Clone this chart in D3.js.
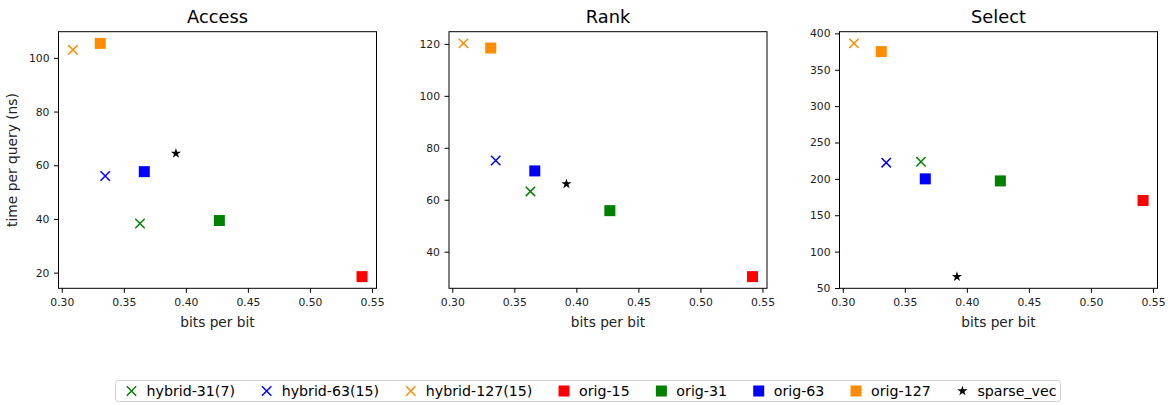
<!DOCTYPE html>
<html>
<head>
<meta charset="utf-8">
<script src="https://cdn.jsdelivr.net/npm/d3@7"></script>
<style>
	body { margin: 0; background: #fff; }
	svg { display: block; font-family: "DejaVu Sans", sans-serif; }
	.axis path, .axis line { stroke: #000; }
	.axis text { fill: #222; font-size: 10.8px; }
</style>
</head>
<body>
<div id="chart"></div>
<script>
// series names, in legend order
var names = ["hybrid-31(7)", "hybrid-63(15)", "hybrid-127(15)", "orig-15", "orig-31", "orig-63", "orig-127", "sparse_vec"];
var colors = ["#008000", "#0000ff", "#ff8c00", "#ff0000", "#008000", "#0000ff", "#ff8c00", "#000000"];
var shapes = ["x", "x", "x", "square", "square", "square", "square", "star"];

// bits per bit, shared by all three panels
var bitsPerBit = [0.363, 0.335, 0.309, 0.542, 0.427, 0.3665, 0.331, 0.392];

// time per query (ns)
var accessNs = [38.3, 56.0, 103.0, 18.5, 39.4, 57.6, 105.4, 64.4];
var rankNs = [63.2, 75.1, 120.2, 30.4, 55.8, 71.1, 118.4, 66.1];
var selectNs = [223.6, 222.3, 386.3, 170.3, 197.2, 200.0, 375.0, 65.6];

var panelTitles = ["Access", "Rank", "Select"];
var xTicks = [0.30, 0.35, 0.40, 0.45, 0.50, 0.55];
var accessTicks = [20, 40, 60, 80, 100];
var rankTicks = [40, 60, 80, 100, 120];
var selectTicks = [50, 100, 150, 200, 250, 300, 350, 400];

var W = 1168, H = 405;
var svg = d3.select("#chart").append("svg")
	.attr("width", W)
	.attr("height", H);

// matplotlib-ish 5% margins
function padded(vals) {
	var lo = d3.min(vals), hi = d3.max(vals);
	var m = (hi - lo) * 0.05;
	return [lo - m, hi + m];
}

function marker(g, shape, color) {
	if (shape == "x") {
		g.append("path")
			.attr("d", "M -4.7 -4.7 L 4.7 4.7 M -4.7 4.7 L 4.7 -4.7")
			.attr("stroke", color)
			.attr("stroke-width", 1.5)
			.attr("fill", "none");
	} else if (shape == "square") {
		g.append("rect")
			.attr("x", -5.5).attr("y", -5.5)
			.attr("width", 11).attr("height", 11)
			.attr("fill", color);
	} else {
		g.append("path")
			.attr("d", d3.symbol(d3.symbolStar, 32)())
			.attr("fill", color);
	}
}

var lefts = [58.5, 449, 839.5];
var plotW = 318, plotTop = 31.7, plotH = 256.6;
var panelData = [accessNs, rankNs, selectNs];
var panelTicks = [accessTicks, rankTicks, selectTicks];

panelData.forEach(function(vals, p) {
	var g = svg.append("g")
		.attr("transform", "translate(" + lefts[p] + "," + plotTop + ")");

	var x = d3.scaleLinear().domain(padded(bitsPerBit)).range([0, plotW]);
	var y = d3.scaleLinear().domain(padded(vals)).range([plotH, 0]);

	g.append("g")
		.attr("class", "axis")
		.attr("transform", "translate(0," + plotH + ")")
		.call(d3.axisBottom(x).tickValues(xTicks).tickFormat(d3.format(".2f")).tickSize(4.5).tickPadding(5.2))
		.call(function(a) { a.select(".domain").remove(); });

	g.append("g")
		.attr("class", "axis")
		.call(d3.axisLeft(y).tickValues(panelTicks[p]).tickFormat(d3.format("d")).tickSize(4.5).tickPadding(4.5))
		.call(function(a) { a.select(".domain").remove(); });

	g.selectAll(".axis").attr("font-family", null).attr("font-size", null);

	// frame
	g.append("rect")
		.attr("width", plotW)
		.attr("height", plotH)
		.attr("fill", "none")
		.attr("stroke", "#000")
		.attr("stroke-width", 1);

	var pts = g.selectAll(".pt")
		.data(d3.range(names.length))
		.enter()
			.append("g")
			.attr("class", "pt")
			.attr("transform", function(i) { return "translate(" + x(bitsPerBit[i]) + "," + y(vals[i]) + ")"; });
	pts.each(function(i) { marker(d3.select(this), shapes[i], colors[i]); });

	g.append("text")
		.attr("x", plotW / 2)
		.attr("y", -8.5)
		.attr("text-anchor", "middle")
		.attr("font-size", "17.8px")
		.attr("fill", "#000")
		.text(panelTitles[p]);

	g.append("text")
		.attr("x", plotW / 2)
		.attr("y", plotH + 39)
		.attr("text-anchor", "middle")
		.attr("font-size", "13.7px")
		.attr("fill", "#222")
		.text("bits per bit");

	if (p == 0) {
		g.append("text")
			.attr("transform", "translate(-41.5," + (plotH / 2) + ") rotate(-90)")
			.attr("text-anchor", "middle")
			.attr("font-size", "13.8px")
			.attr("fill", "#222")
			.text("time per query (ns)");
	}
});

// legend along the bottom
var legend = svg.append("g").attr("class", "legend");
var box = legend.append("rect")
	.attr("fill", "#fff")
	.attr("stroke", "#d0d0d0")
	.attr("stroke-width", 1)
	.attr("rx", 3);
var items = legend.selectAll(".item")
	.data(d3.range(names.length))
	.enter()
		.append("g")
		.attr("class", "item");
items.each(function(i) {
	var it = d3.select(this);
	marker(it.append("g"), shapes[i], colors[i]);
	it.append("text")
		.attr("x", 15)
		.attr("y", 5)
		.attr("font-size", "14.2px")
		.attr("fill", "#000")
		.text(names[i]);
});
var cx = 0, pos = [];
items.each(function(i) {
	var w = d3.select(this).select("text").node().getComputedTextLength();
	pos.push(cx);
	cx += 15 + w + 31.7;
});
var total = cx - 31.7 + 16 + 4;
var legLeft = 588 - total / 2;
var legY = 391;
items.attr("transform", function(i) { return "translate(" + (legLeft + 16 + pos[i]) + "," + legY + ")"; });
box.attr("x", legLeft).attr("y", legY - 10.5).attr("width", total).attr("height", 21);
</script>
</body>
</html>
